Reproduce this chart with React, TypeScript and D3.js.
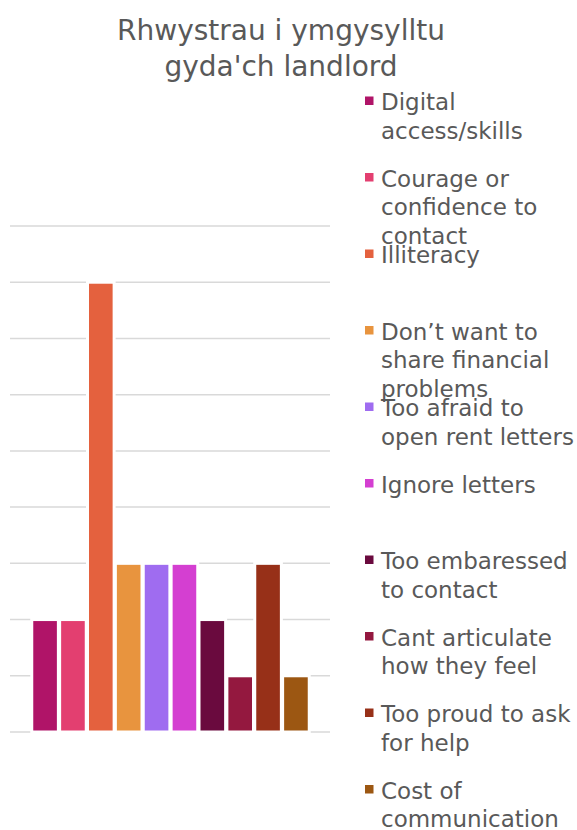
import { useEffect, useRef } from 'react';
import * as d3 from 'd3';

const WIDTH = 577;
const HEIGHT = 830;

const titleLines = ['Rhwystrau i ymgysylltu', "gyda'ch landlord"];

const seriesNames = [
  'Digital\naccess/skills',
  'Courage or\nconfidence to\ncontact',
  'Illiteracy',
  "Don\u2019t want to\nshare financial\nproblems",
  'Too afraid to\nopen rent letters',
  'Ignore letters',
  'Too embaressed\nto contact',
  'Cant articulate\nhow they feel',
  'Too proud to ask\nfor help',
  'Cost of\ncommunication',
];

const seriesValues = [2, 2, 8, 3, 3, 3, 2, 1, 3, 1];

const seriesColors = [
  '#b01468', '#e33f70', '#e4613e', '#e8943e', '#9f6cf0',
  '#d43fd1', '#6a0a3e', '#94183f', '#973018', '#9c5712',
];

const yTicks = d3.range(0, 10);

const FONT = '"DejaVu Sans", sans-serif';
const TEXT = '#595959';

export default function App() {
  const svgRef = useRef<SVGSVGElement | null>(null);

  useEffect(() => {
    if (!svgRef.current) return;
    const svg = d3.select(svgRef.current);
    svg.selectAll('*').remove();

    const plot = { left: 10, right: 330, top: 226, bottom: 732 };

    const y = d3.scaleLinear().domain([0, 9]).range([plot.bottom, plot.top]);
    // one category, ten series side by side
    const x = d3
      .scaleBand<number>()
      .domain(d3.range(seriesValues.length))
      .range([31.2, 309.8])
      .paddingInner(0.045)
      .paddingOuter(0.02);

    // title
    svg
      .append('g')
      .selectAll('text')
      .data(titleLines)
      .enter()
      .append('text')
      .attr('x', 281)
      .attr('y', (_, i) => 40 + i * 36)
      .attr('text-anchor', 'middle')
      .attr('font-family', FONT)
      .attr('font-size', 28)
      .attr('fill', TEXT)
      .text((d) => d);

    // gridlines
    svg
      .append('g')
      .selectAll('line')
      .data(yTicks)
      .enter()
      .append('line')
      .attr('x1', plot.left)
      .attr('x2', plot.right)
      .attr('y1', (d) => y(d))
      .attr('y2', (d) => y(d))
      .attr('stroke', '#d9d9d9')
      .attr('stroke-width', 1.5);

    // bars, white outline like the original
    svg
      .append('g')
      .selectAll('rect')
      .data(seriesValues)
      .enter()
      .append('rect')
      .attr('x', (_, i) => x(i) ?? 0)
      .attr('y', (d) => y(d))
      .attr('width', x.bandwidth())
      .attr('height', (d) => y(0) - y(d))
      .attr('fill', (_, i) => seriesColors[i])
      .attr('stroke', '#ffffff')
      .attr('stroke-width', 3);

    // legend
    const legend = svg
      .append('g')
      .selectAll('g')
      .data(seriesNames)
      .enter()
      .append('g')
      .attr('transform', (_, i) => `translate(0, ${110 + i * 76.5})`);

    legend
      .append('rect')
      .attr('x', 365)
      .attr('y', -13.5)
      .attr('width', 8.5)
      .attr('height', 8.5)
      .attr('fill', (_, i) => seriesColors[i]);

    legend
      .append('text')
      .attr('font-family', FONT)
      .attr('font-size', 23)
      .attr('fill', TEXT)
      .selectAll('tspan')
      .data((d) => d.split('\n'))
      .enter()
      .append('tspan')
      .attr('x', 381)
      .attr('y', (_, i) => i * 28.7)
      .text((d) => d);
  }, []);

  return (
    <svg
      ref={svgRef}
      width={WIDTH}
      height={HEIGHT}
      viewBox={`0 0 ${WIDTH} ${HEIGHT}`}
      style={{ position: 'absolute', left: 0, top: 0, background: '#ffffff' }}
    />
  );
}
